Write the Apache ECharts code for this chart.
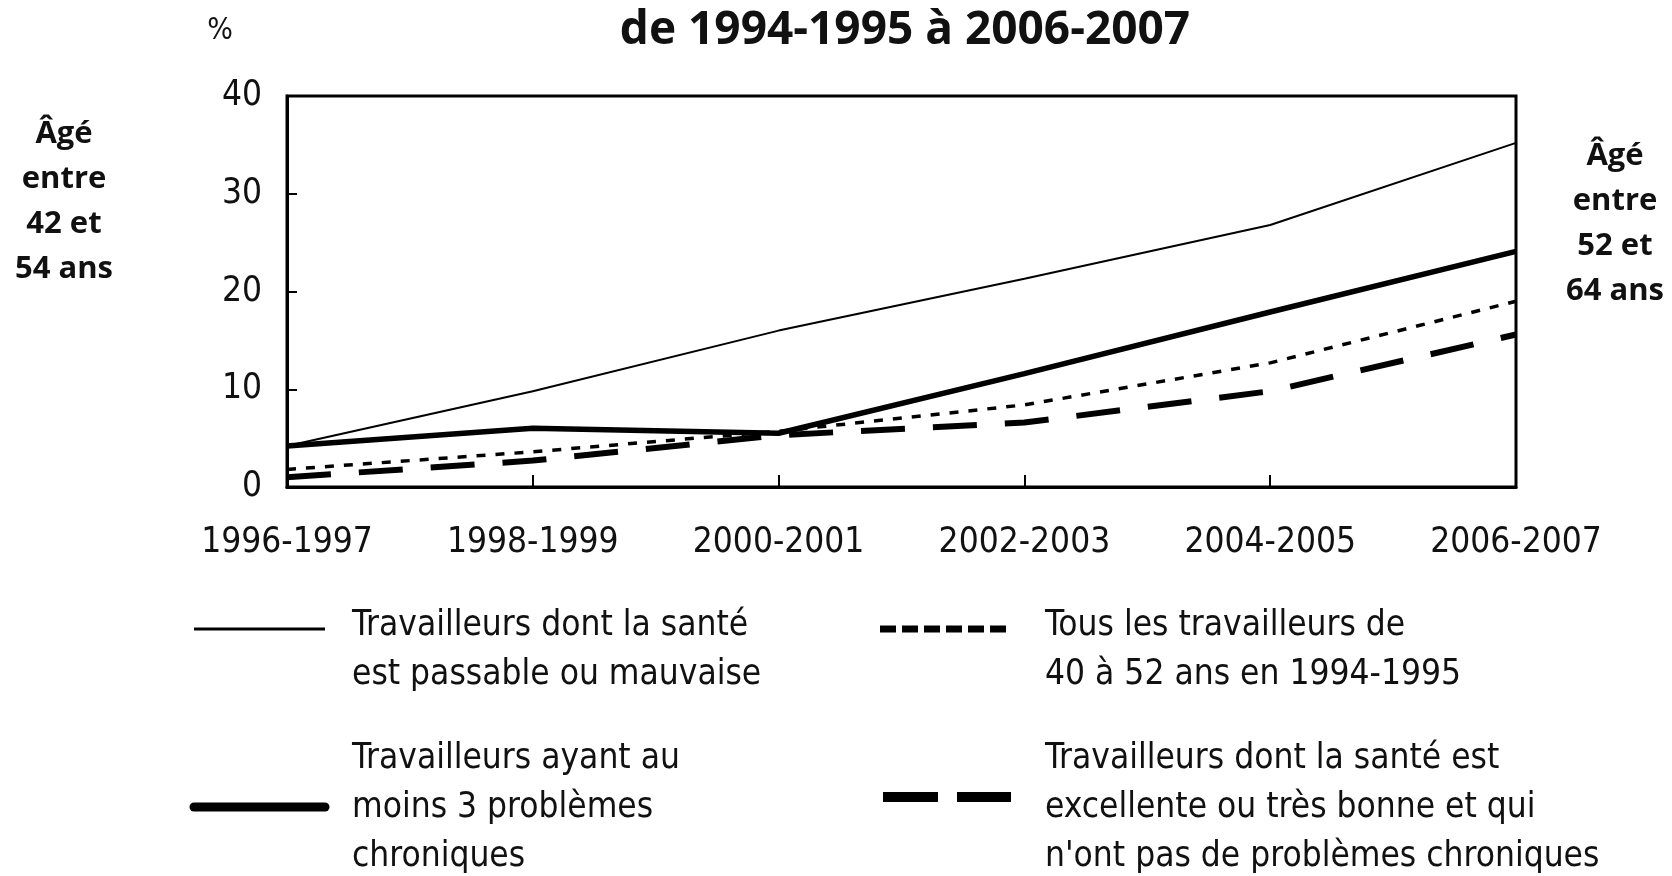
<!DOCTYPE html>
<html>
<head>
<meta charset="utf-8">
<script src="https://cdn.jsdelivr.net/npm/echarts@6/dist/echarts.min.js"></script>
<style>
html,body{margin:0;padding:0;background:#fff;}
#chart{width:1672px;height:876px;}
</style>
</head>
<body>
<div id="chart"></div>
<script>
// ---- data ----
const categories = ['1996-1997','1998-1999','2000-2001','2002-2003','2004-2005','2006-2007'];
const seriesNames = [
  'Travailleurs dont la santé est passable ou mauvaise',
  'Travailleurs ayant au moins 3 problèmes chroniques',
  'Tous les travailleurs de 40 à 52 ans en 1994-1995',
  "Travailleurs dont la santé est excellente ou très bonne et qui n'ont pas de problèmes chroniques"
];
const passableMauvaise = [4.2, 9.8, 16.0, 21.3, 26.8, 35.2];
const troisProblemes   = [4.2, 6.0, 5.5, 11.6, 17.9, 24.1];
const tousTravailleurs = [1.8, 3.6, 5.7, 8.4, 12.7, 19.0];
const excellente       = [1.0, 2.7, 5.3, 6.6, 9.8, 15.6];
const yMin = 0, yMax = 40, yStep = 10;
const titleText = 'de 1994-1995 à 2006-2007';
const unitText = '%';
const leftNote = ['Âgé','entre','42 et','54 ans'];
const rightNote = ['Âgé','entre','52 et','64 ans'];
const legendLines = [
  ['Travailleurs dont la santé','est passable ou mauvaise'],
  ['Travailleurs ayant au','moins 3 problèmes','chroniques'],
  ['Tous les travailleurs de','40 à 52 ans en 1994-1995'],
  ['Travailleurs dont la santé est','excellente ou très bonne et qui',"n'ont pas de problèmes chroniques"]
];

// ---- layout ----
const axisFont = "'DejaVu Sans Condensed', 'DejaVu Sans', sans-serif";
const boldFont = "'Open Sans', 'Noto Sans', sans-serif";
const textColor = '#111';

function textEl(str, x, y, font, align) {
  return { type:'text', silent:true, style:{ text:str, x:x, y:y, font:font, fill:textColor, textAlign:align||'left', textVerticalAlign:'middle' } };
}
const graphics = [];
graphics.push(textEl(titleText, 905, 31, "bold 46px " + boldFont, 'center'));
graphics.push(textEl(unitText, 220, 31, "30px " + axisFont, 'center'));
leftNote.forEach((t,i)=>graphics.push(textEl(t, 64, 134 + i*45, "bold 31px " + boldFont, 'center')));
rightNote.forEach((t,i)=>graphics.push(textEl(t, 1615, 156 + i*45, "bold 31px " + boldFont, 'center')));

const legFont = "35px " + axisFont;
const lh = 49;
const legendPos = [
  {tx:352, ty:626, sx1:194, sx2:325, sy:629, style:{lineWidth:3}},
  {tx:352, ty:759, sx1:194, sx2:325, sy:807, style:{lineWidth:9, lineCap:'round'}},
  {tx:1045, ty:626, sx1:880, sx2:1012, sy:629, style:{lineWidth:7, lineDash:[16,6]}},
  {tx:1045, ty:759, sx1:883, sx2:1011, sy:797, style:{lineWidth:10, lineDash:[55,19]}}
];
legendLines.forEach((lines, k) => {
  const p = legendPos[k];
  graphics.push({ type:'line', silent:true, shape:{x1:p.sx1, y1:p.sy, x2:p.sx2, y2:p.sy},
    style: Object.assign({stroke:'#000'}, p.style) });
  lines.forEach((t,i)=>graphics.push(textEl(t, p.tx, p.ty + i*lh, legFont, 'left')));
});

const chart = echarts.init(document.getElementById('chart'), null, {renderer:'canvas'});
const lineStyles = [
  {width:2, type:'solid'},
  {width:5.5, type:'solid'},
  {width:3.5, type:[9,10]},
  {width:6, type:[44,28]}
];
const allData = [passableMauvaise, troisProblemes, tousTravailleurs, excellente];
const order = [3,2,0,1];
chart.setOption({
  backgroundColor:'#fff',
  animation:false,
  grid:{ left:287, right:156, top:96, bottom:389, show:true, borderColor:'#000', borderWidth:3, backgroundColor:'transparent' },
  xAxis:{
    type:'category', data:categories, boundaryGap:false,
    axisLine:{show:true, lineStyle:{color:'#000', width:3}},
    axisTick:{show:true, inside:true, length:12, lineStyle:{color:'#000', width:2}},
    axisLabel:{margin:38, fontSize:35, fontFamily:axisFont, color:textColor},
    splitLine:{show:false}
  },
  yAxis:{
    type:'value', min:yMin, max:yMax, interval:yStep,
    axisLine:{show:true, lineStyle:{color:'#000', width:3}},
    axisTick:{show:true, inside:true, length:10, lineStyle:{color:'#000', width:2}},
    axisLabel:{margin:25, fontSize:35, fontFamily:axisFont, color:textColor},
    splitLine:{show:false}
  },
  series: order.map(i => ({
    name: seriesNames[i], type:'line', data: allData[i], symbol:'none', smooth:false,
    lineStyle:{color:'#000', width:lineStyles[i].width, type:lineStyles[i].type},
    z: 3
  })),
  graphic: graphics
});
</script>
</body>
</html>
